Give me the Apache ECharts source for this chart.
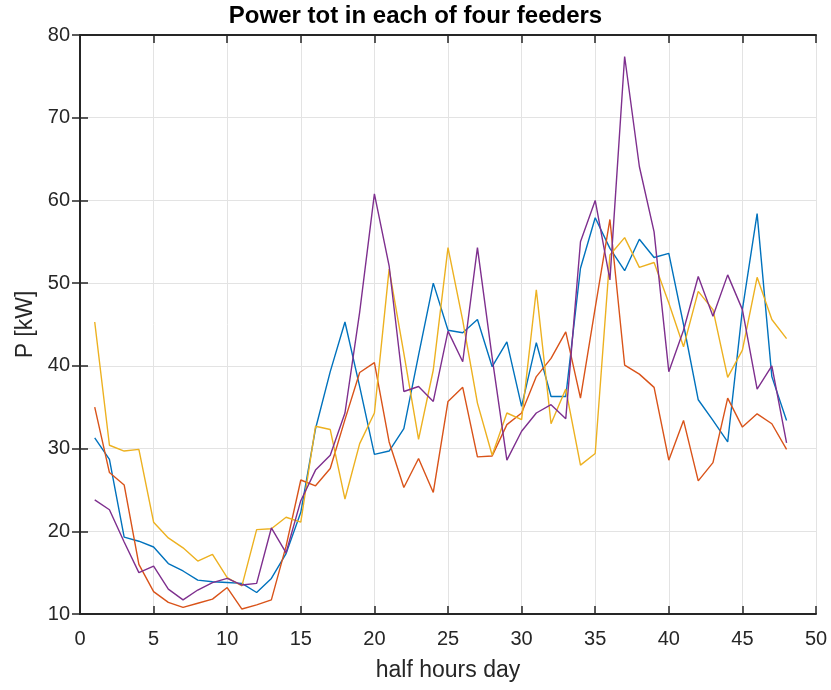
<!DOCTYPE html>
<html>
<head>
<meta charset="utf-8">
<title>Power tot in each of four feeders</title>
<script src="https://cdn.jsdelivr.net/npm/echarts@6/dist/echarts.min.js"></script>
<style>
  html, body { margin: 0; padding: 0; background: #fff; }
  #chart { width: 831px; height: 690px; }
</style>
</head>
<body>
<div id="chart"></div>
<script>
// values, one per half hour (1..48)
const feeder1 = [31.3, 28.7, 19.3, 18.8, 18.1, 16.1, 15.2, 14.1, 13.9, 13.8,
  13.7, 12.6, 14.3, 17.3, 22.3, 32.4, 39.3, 45.3, 37.5, 29.3,
  29.7, 32.4, 41.3, 50.0, 44.3, 44.0, 45.6, 39.9, 42.9, 35.1,
  42.8, 36.3, 36.3, 51.8, 57.9, 54.2, 51.5, 55.3, 53.1, 53.6,
  45.0, 35.9, 33.4, 30.8, 46.8, 58.4, 38.7, 33.4]
const feeder2 = [35.0, 27.1, 25.6, 16.0, 12.7, 11.4, 10.8, 11.3, 11.8, 13.2,
  10.6, 11.1, 11.7, 18.2, 26.2, 25.5, 27.6, 33.5, 39.2, 40.4,
  30.8, 25.3, 28.8, 24.7, 35.7, 37.4, 29.0, 29.1, 32.9, 34.3,
  38.7, 40.9, 44.1, 36.1, 47.0, 57.7, 40.1, 39.0, 37.4, 28.6,
  33.4, 26.1, 28.3, 36.1, 32.6, 34.2, 33.0, 29.9]
const feeder3 = [45.3, 30.4, 29.7, 29.9, 21.1, 19.2, 18.0, 16.4, 17.2, 14.4,
  13.4, 20.2, 20.3, 21.7, 21.1, 32.7, 32.3, 23.9, 30.6, 34.3,
  51.7, 41.5, 31.1, 39.5, 54.3, 45.5, 35.5, 29.2, 34.3, 33.5,
  49.2, 33.0, 37.2, 28.0, 29.4, 53.4, 55.5, 51.9, 52.5, 47.6,
  42.3, 49.0, 46.8, 38.6, 41.9, 50.7, 45.6, 43.3]
const feeder4 = [23.8, 22.6, 18.7, 15.0, 15.8, 13.0, 11.7, 12.9, 13.8, 14.3,
  13.5, 13.7, 20.4, 17.4, 23.7, 27.4, 29.2, 34.3, 46.5, 60.8,
  52.1, 36.9, 37.5, 35.7, 44.2, 40.5, 54.3, 41.0, 28.6, 32.1,
  34.3, 35.3, 33.6, 55.0, 60.0, 50.4, 77.4, 64.1, 56.2, 39.3,
  44.3, 50.8, 46.0, 51.0, 46.8, 37.2, 40.0, 30.7]

const feeders = [feeder1, feeder2, feeder3, feeder4]
const colors = ['#0072BD', '#D95319', '#EDB120', '#7E2F8E']

const font = '"Liberation Sans", Arial, Helvetica, sans-serif'
const ink = '#262626'

const chart = echarts.init(document.getElementById('chart'))

// box axes like matlab: ticks inside on all four sides
const boxLine = { show: true, lineStyle: { color: ink, width: 2 } }
const tickIn = { show: true, inside: true, length: 8, lineStyle: { color: ink, width: 1.5 } }

const option = {
  animation: false,
  backgroundColor: '#fff',
  title: {
    text: 'Power tot in each of four feeders',
    left: 'center',
    top: 4,
    padding: 0,
    textStyle: { fontFamily: font, fontSize: 24, fontWeight: 'bold', color: '#000' },
  },
  grid: { left: 80, right: 15, top: 35, bottom: 76 },
  xAxis: [
    {
      type: 'value',
      min: 0,
      max: 50,
      interval: 5,
      position: 'bottom',
      name: 'half hours day',
      nameLocation: 'middle',
      nameGap: 45,
      nameTextStyle: { fontFamily: font, fontSize: 23, color: ink },
      axisLine: boxLine,
      axisTick: tickIn,
      axisLabel: { fontFamily: font, fontSize: 20, color: ink, margin: 15 },
      splitLine: { show: true, lineStyle: { color: '#e3e3e3', width: 1 } },
    },
    {
      type: 'value',
      min: 0,
      max: 50,
      interval: 5,
      position: 'top',
      axisLine: boxLine,
      axisTick: tickIn,
      axisLabel: { show: false },
      splitLine: { show: false },
    },
  ],
  yAxis: [
    {
      type: 'value',
      min: 10,
      max: 80,
      interval: 10,
      position: 'left',
      name: 'P [kW]',
      nameLocation: 'middle',
      nameGap: 40,
      nameTextStyle: { fontFamily: font, fontSize: 23, color: ink },
      axisLine: boxLine,
      axisTick: tickIn,
      axisLabel: { fontFamily: font, fontSize: 20, color: ink, margin: 10 },
      splitLine: { show: true, lineStyle: { color: '#e3e3e3', width: 1 } },
    },
    {
      type: 'value',
      min: 10,
      max: 80,
      interval: 10,
      position: 'right',
      axisLine: boxLine,
      axisTick: tickIn,
      axisLabel: { show: false },
      splitLine: { show: false },
    },
  ],
  series: feeders.map((vals, k) => ({
    name: 'feeder ' + (k + 1),
    type: 'line',
    xAxisIndex: 0,
    yAxisIndex: 0,
    showSymbol: false,
    symbol: 'none',
    color: colors[k],
    lineStyle: { color: colors[k], width: 1.4 },
    data: vals.map((v, i) => [i + 1, v]),
  })),
}

chart.setOption(option)
</script>
</body>
</html>
